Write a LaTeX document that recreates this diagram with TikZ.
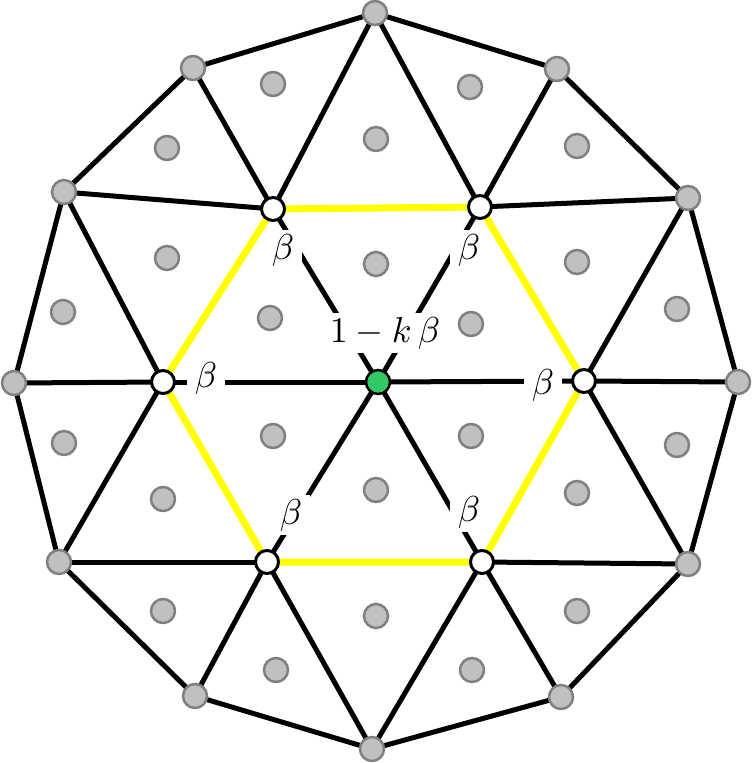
\documentclass[tikz,border=0pt]{standalone}
\usepackage{graphicx}
\definecolor{grayfill}{RGB}{192,192,192}
\definecolor{grayedge}{RGB}{128,128,128}
\definecolor{greenfill}{RGB}{50,200,100}
\definecolor{hexyellow}{RGB}{255,255,0}
\pgfdeclarelayer{bg}
\pgfdeclarelayer{mid}
\pgfsetlayers{bg,mid,main}
\newcommand{\lblmath}[1]{\scalebox{3.6}{$#1$}}
\tikzset{
  edge/.style={line width=5pt, black, line join=round},
  hexedge/.style={line width=7pt, hexyellow, line join=round},
  graynode/.style={circle, fill=grayfill, draw=grayedge, line width=2.5pt, minimum size=24pt, inner sep=0pt},
  whitenode/.style={circle, fill=white, draw=black, line width=3pt, minimum size=23pt, inner sep=0pt},
  centernode/.style={circle, fill=greenfill, draw=black, line width=2.5pt, minimum size=24pt, inner sep=0pt},
  facedot/.style={graynode},
  lbl/.style={fill=white, inner xsep=8pt, inner ysep=4pt},
}
\begin{document}
\begin{tikzpicture}[x=1pt,y=-1pt]
\useasboundingbox (0,0) rectangle (752,763);
% center and hexagon
\node[centernode] (C) at (378,382) {};
\node[whitenode] (H0) at (584,381) {};
\node[whitenode] (H1) at (480,207) {};
\node[whitenode] (H2) at (273,209) {};
\node[whitenode] (H3) at (163,382) {};
\node[whitenode] (H4) at (267,562) {};
\node[whitenode] (H5) at (482,562) {};
% outer ring
\node[graynode] (O0) at (738,382) {};
\node[graynode] (O1) at (688,198) {};
\node[graynode] (O2) at (557,69) {};
\node[graynode] (O3) at (375,13) {};
\node[graynode] (O4) at (193,68) {};
\node[graynode] (O5) at (64,192) {};
\node[graynode] (O6) at (14,383) {};
\node[graynode] (O7) at (59,562) {};
\node[graynode] (O8) at (195,696) {};
\node[graynode] (O9) at (372,749) {};
\node[graynode] (O10) at (561,697) {};
\node[graynode] (O11) at (688,564) {};
% face dots
\foreach \p [count=\n] in {(273,84),(470,87),(376,139),(167,148),(577,146),(167,258),
  (577,262),(376,264),(63,312),(270,318),(471,324),(677,309),
  (64,443),(273,436),(471,436),(677,445),(163,499),(376,490),(577,493),
  (163,611),(376,616),(577,611),(276,670),(472,670)}
  \node[facedot] (F\n) at \p {};
% edges
\begin{pgfonlayer}{bg}
  \foreach \i in {0,...,5} \draw[edge] (C.center) -- (H\i.center);
  \foreach \i/\a/\b/\c in {0/11/0/1, 1/1/2/3, 2/3/4/5, 3/5/6/7, 4/7/8/9, 5/9/10/11} {
    \draw[edge] (H\i.center) -- (O\a.center);
    \draw[edge] (H\i.center) -- (O\b.center);
    \draw[edge] (H\i.center) -- (O\c.center);
  }
  \draw[edge] (O0.center) -- (O1.center) -- (O2.center) -- (O3.center) -- (O4.center)
    -- (O5.center) -- (O6.center) -- (O7.center) -- (O8.center) -- (O9.center)
    -- (O10.center) -- (O11.center) -- cycle;
  \draw[hexedge] (H0.center) -- (H1.center) -- (H2.center) -- (H3.center)
    -- (H4.center) -- (H5.center) -- cycle;
\end{pgfonlayer}
% labels
\begin{pgfonlayer}{mid}
  \node[lbl] (L0) at (543,385) {\lblmath{\beta}};
  \node[lbl] (L1) at (469,250) {\lblmath{\beta}};
  \node[lbl] (L2) at (283,250) {\lblmath{\beta}};
  \node[lbl] (L3) at (206,378) {\lblmath{\beta}};
  \node[lbl] (L4) at (291,515) {\lblmath{\beta}};
  \node[lbl] (L5) at (469,512) {\lblmath{\beta}};
  \node[lbl] (LC) at (385,333) {\lblmath{1-k\,\beta}};
\end{pgfonlayer}
\end{tikzpicture}
\end{document}
